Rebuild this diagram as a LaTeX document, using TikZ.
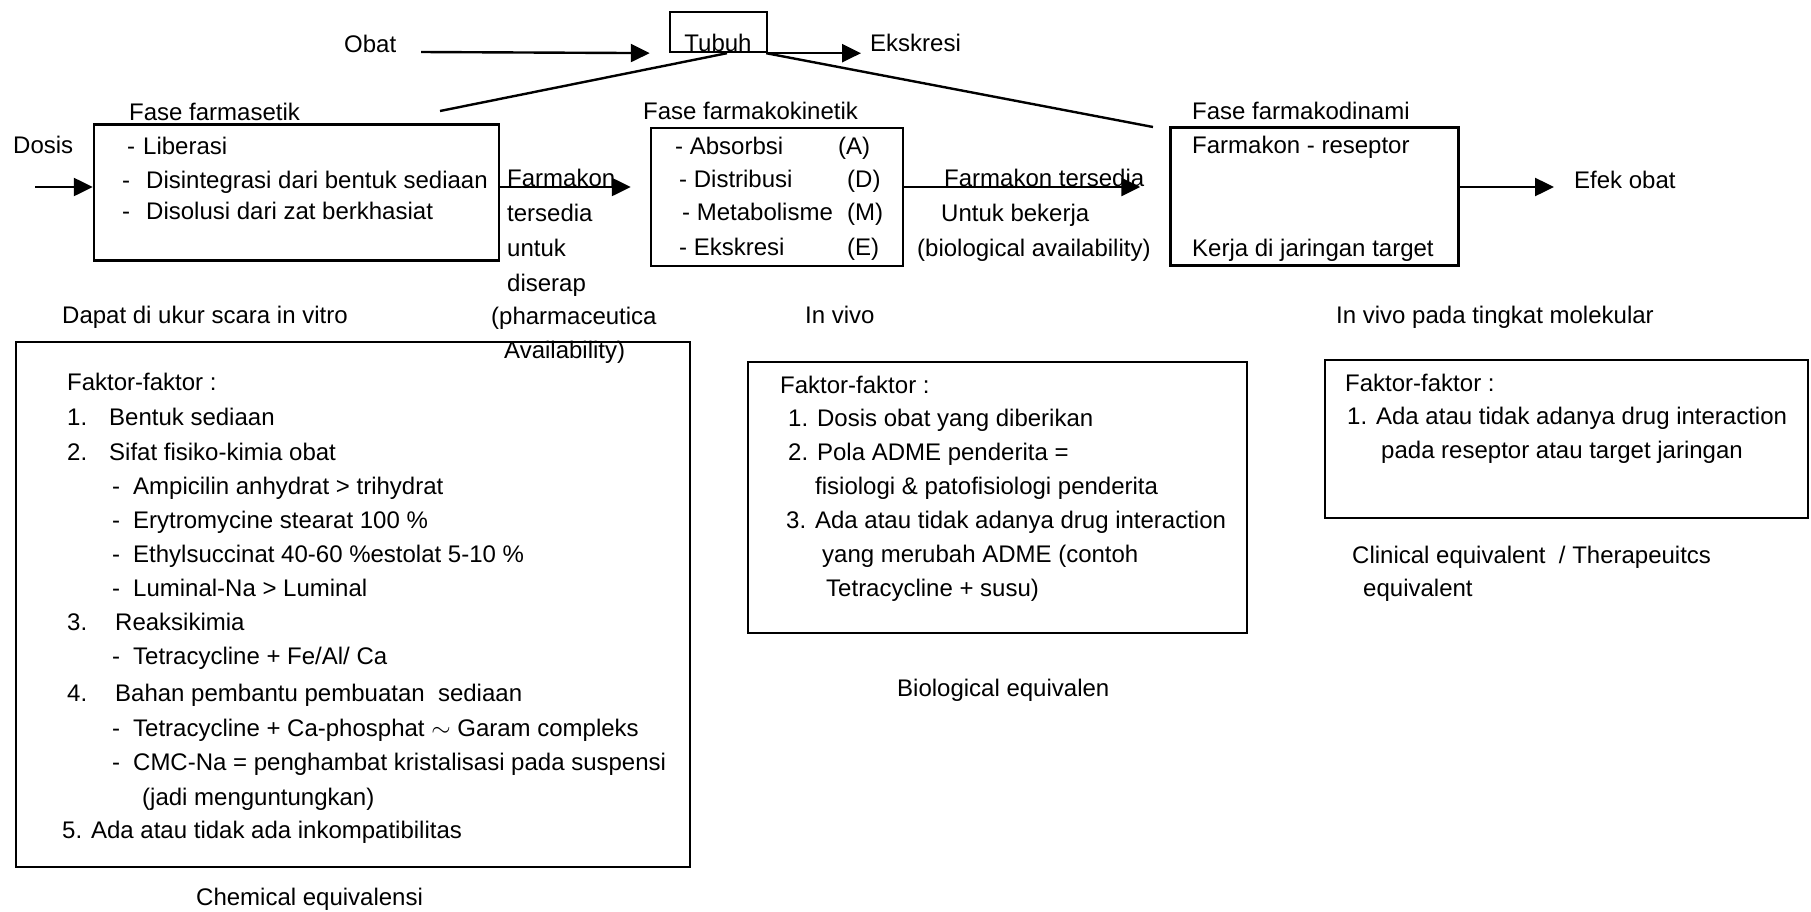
\documentclass[tikz,border=0pt]{standalone}
\usepackage{fontspec}
\setmainfont{Liberation Sans}
\usetikzlibrary{arrows.meta}
\newcommand\mylbl[4]{\node[tx] (#1) at (#2,#3+8) {#4};}
\begin{document}
\begin{tikzpicture}[x=1pt,y=-1pt,
  every node/.style={font=\fontsize{24}{34}\selectfont},
  tx/.style={anchor=base west, inner sep=0pt},
  box/.style={draw, line width=2.4pt, inner sep=0pt},
  conn/.style={line width=2.4pt, -{Triangle[length=19pt,width=18pt]}},
  ln/.style={line width=2.4pt}]
\useasboundingbox (0,0) rectangle (1811,911);
% boxes
\node[box, minimum width=97pt, minimum height=40pt] (tubuh) at (718.5,32) {};
\node[box, minimum width=405pt, minimum height=136pt] (farmasetik) at (296.5,192.5) {};
\node[box, minimum width=252pt, minimum height=138pt] (farmakokinetik) at (777,197) {};
\node[box, minimum width=288pt, minimum height=138pt] (farmakodinami) at (1314.5,196.5) {};
\node[box, minimum width=674pt, minimum height=525pt] (faktorA) at (353,604.5) {};
\node[box, minimum width=499pt, minimum height=271pt] (faktorB) at (997.5,497.5) {};
\node[box, minimum width=483pt, minimum height=158pt] (faktorC) at (1566.5,439) {};
% top row
\mylbl{obat}{344}{44}{Obat}
\node[anchor=base, inner sep=0pt] (tubuhT) at (718,51) {Tubuh};
\mylbl{ekskresi}{870}{43}{Ekskresi}
% farmasetik
\mylbl{fasefs}{129}{112}{Fase farmasetik}
\mylbl{dosis}{13}{145}{Dosis}
\mylbl{fs1}{127}{146}{-\hspace{8pt}Liberasi}
\mylbl{fs2}{122}{180}{-\hspace{16pt}Disintegrasi dari bentuk sediaan}
\mylbl{fs3}{122}{211}{-\hspace{16pt}Disolusi dari zat berkhasiat}
% farmakon column
\mylbl{fk1}{507}{178}{Farmakon}
\mylbl{fk2}{507}{213}{tersedia}
\mylbl{fk3}{507}{248}{untuk}
\mylbl{fk4}{507}{283}{diserap}
\mylbl{fk5}{491}{316}{(pharmaceutica}
\mylbl{fk6}{504}{350}{Availability)}
% farmakokinetik
\mylbl{fasefk}{643}{111}{Fase farmakokinetik}
\mylbl{kA}{675}{146}{- Absorbsi}
\mylbl{kD}{679}{179}{- Distribusi}
\mylbl{kM}{682}{212}{- Metabolisme}
\mylbl{kE}{679}{247}{- Ekskresi}
\mylbl{kAl}{838}{146}{(A)}
\mylbl{kDl}{847}{179}{(D)}
\mylbl{kMl}{847}{212}{(M)}
\mylbl{kEl}{847}{247}{(E)}
\mylbl{ft1}{944}{178}{Farmakon tersedia}
\mylbl{ft2}{941}{213}{Untuk bekerja}
\mylbl{ft3}{917}{248}{(biological availability)}
% farmakodinami
\mylbl{fasefd}{1192}{111}{Fase farmakodinami}
\mylbl{fd1}{1192}{145}{Farmakon - reseptor}
\mylbl{fd2}{1192}{248}{Kerja di jaringan target}
\mylbl{efek}{1574}{180}{Efek obat}
% row labels
\mylbl{invitro}{62}{315}{Dapat di ukur scara in vitro}
\mylbl{invivo}{805}{315}{In vivo}
\mylbl{invivom}{1336}{315}{In vivo pada tingkat molekular}
% factor box A
\mylbl{a0}{67}{382}{Faktor-faktor :}
\mylbl{a1n}{67}{417}{1.}
\mylbl{a1}{109}{417}{Bentuk sediaan}
\mylbl{a2n}{67}{452}{2.}
\mylbl{a2}{109}{452}{Sifat fisiko-kimia obat}
\mylbl{a21}{112}{486}{-\hspace{13pt}Ampicilin anhydrat > trihydrat}
\mylbl{a22}{112}{520}{-\hspace{13pt}Erytromycine stearat 100 \%}
\mylbl{a23}{112}{554}{-\hspace{13pt}Ethylsuccinat 40-60 \%estolat 5-10 \%}
\mylbl{a24}{112}{588}{-\hspace{13pt}Luminal-Na > Luminal}
\mylbl{a3n}{67}{622}{3.}
\mylbl{a3}{115}{622}{Reaksikimia}
\mylbl{a31}{112}{656}{-\hspace{13pt}Tetracycline + Fe/Al/ Ca}
\mylbl{a4n}{67}{693}{4.}
\mylbl{a4}{115}{693}{Bahan pembantu pembuatan\ \ sediaan}
\mylbl{a41}{112}{728}{-\hspace{13pt}Tetracycline + Ca-phosphat $\sim$ Garam compleks}
\mylbl{a42}{112}{762}{-\hspace{13pt}CMC-Na = penghambat kristalisasi pada suspensi}
\mylbl{a43}{142}{797}{(jadi menguntungkan)}
\mylbl{a5}{62}{830}{5. Ada atau tidak ada inkompatibilitas}
\mylbl{chem}{196}{897}{Chemical equivalensi}
% factor box B
\mylbl{b0}{780}{385}{Faktor-faktor :}
\mylbl{b1}{788}{418}{1. Dosis obat yang diberikan}
\mylbl{b2}{788}{452}{2. Pola ADME penderita =}
\mylbl{b2b}{815}{486}{fisiologi \& patofisiologi penderita}
\mylbl{b3}{786}{520}{3. Ada atau tidak adanya drug interaction}
\mylbl{b3b}{822}{554}{yang merubah ADME (contoh}
\mylbl{b3c}{826}{588}{Tetracycline + susu)}
\mylbl{bio}{897}{688}{Biological equivalen}
% factor box C
\mylbl{c0}{1345}{383}{Faktor-faktor :}
\mylbl{c1}{1347}{416}{1. Ada atau tidak adanya drug interaction}
\mylbl{c1b}{1381}{450}{pada reseptor atau target jaringan}
\mylbl{clin}{1352}{555}{Clinical equivalent\ \ / Therapeuitcs}
\mylbl{clinb}{1363}{588}{equivalent}
% connectors
\coordinate (obatA) at (421,52);
\draw[conn, shorten >=19pt] (obatA) -- (tubuh.south west);
\draw[conn, shorten >=9pt] (tubuh.south east) -- (ekskresi.west |- tubuh.south);
\coordinate (dL) at (440,111);
\coordinate (dR) at (1153,127);
\draw[ln] ([xshift=8.5pt]tubuh.south) -- (dL);
\draw[ln] ([xshift=-2pt]tubuh.south east) -- (dR);
\coordinate (dosA) at (35,187);
\draw[conn] (dosA) -- (dosA -| farmasetik.west);
\draw[conn, shorten >=19pt] (farmasetik.east |- dosA) -- (farmakokinetik.west |- dosA);
\draw[conn, shorten >=29pt] (farmakokinetik.east |- dosA) -- (farmakodinami.west |- dosA);
\draw[conn, shorten >=20pt] (farmakodinami.east |- dosA) -- (efek.west |- dosA);
\end{tikzpicture}
\end{document}
